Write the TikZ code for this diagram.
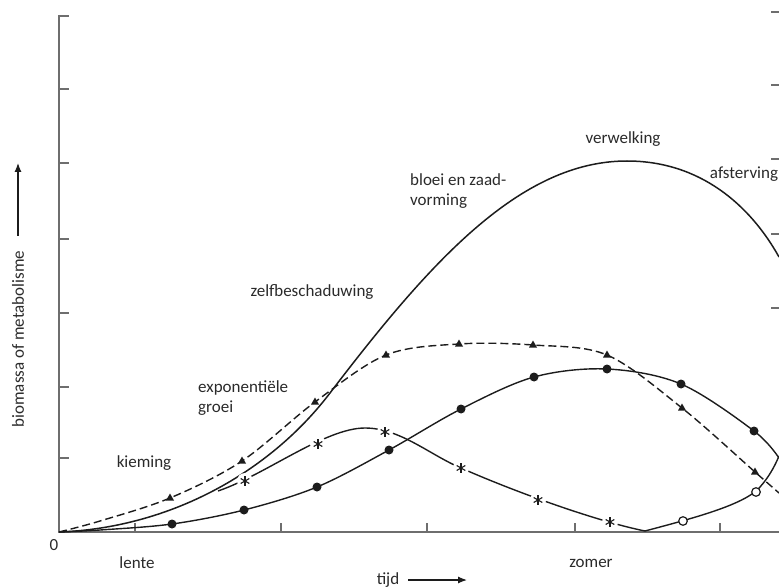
\documentclass[tikz,border=0pt]{standalone}
\usepackage{fontspec}
\setmainfont{Carlito}
\usetikzlibrary{arrows.meta}
\definecolor{axisgray}{HTML}{6E6E6E}
\definecolor{ink}{HTML}{1C1C1C}
\definecolor{labelink}{HTML}{2A2A2A}
\tikzset{
  axisline/.style={draw=axisgray, line width=1.6pt},
  tickline/.style={draw=axisgray, line width=1.3pt},
  curve/.style={draw=ink, line width=1.4pt, line join=round},
  dashcurve/.style={curve, dash pattern=on 8pt off 4pt},
  lbl/.style={text=labelink, inner sep=0pt, font=\fontsize{17}{20}\selectfont},
  lbll/.style={lbl, anchor=west, align=left},
}
\begin{document}
\begin{tikzpicture}[x=1pt, y=-1pt]
\useasboundingbox (0,0) rectangle (779,588);

% axes
\draw[axisline] (59,15) -- (59,532) -- (779,532);
\foreach \yy in {16,89,163,239,313,387,458}
  \draw[tickline] (59,\yy) -- (69,\yy);
\foreach \xx in {135,281,427,575,720}
  \draw[tickline] (\xx,532) -- (\xx,523);
% ticks of the right-hand axis
\foreach \yy in {12,85,159,234,308}
  \draw[tickline] (771,\yy) -- (779,\yy);

% total biomass
\draw[curve, line width=1.5pt] (59,532)
  .. controls (170,528) and (270,472) .. (330,393)
  .. controls (430,262) and (520,161) .. (627,161)
  .. controls (700,161) and (750,205) .. (779,257);

% triangles (dashed)
\draw[dashcurve] plot[smooth, tension=0.55] coordinates {
  (59,532) (100,521) (170,498) (242,461) (315,402) (386,355) (459,344)
  (533,345) (607,355) (682,408) (755,472) (779,493)};
\foreach \p in {(170,498),(242,461),(315,402),(386,355),(459,344),(533,345),(607,355),(682,408),(755,472)}
  \fill[ink] \p ++(0,-4.5) -- ++(4,7) -- ++(-8,0) -- cycle;

% filled dots
\draw[curve] plot[smooth, tension=0.55] coordinates {
  (59,532) (100,530) (172,524) (244,510) (317,487) (389,450) (461,409)
  (534,377) (607,369) (681,384) (754,431) (779,458)};
\foreach \p in {(172,524),(244,510),(317,487),(389,450),(461,409),(534,377),(607,369),(681,384),(754,431)}
  \fill[ink] \p circle (4.5);

% stars, falling to zero, then open circles
\draw[curve] (218,491)
  .. controls (265,475) and (325,428) .. (365,428)
  .. controls (400,428) and (430,455) .. (461,468)
  .. controls (520,494) and (600,522) .. (645,531);
\draw[curve] (645,531)
  .. controls (690,519) and (745,505) .. (760,487)
  .. controls (768,478) and (774,468) .. (779,456);
\foreach \p in {(245,481),(318,444),(385,432),(461,468),(538,500),(610,522)}{
  \fill[white] \p circle (8);
  \draw[ink, line width=1.1pt] \p ++(0,-5) -- ++(0,10);
  \draw[ink, line width=1.1pt] \p ++(30:5) -- ++(210:10);
  \draw[ink, line width=1.1pt] \p ++(150:5) -- ++(330:10);
}
\foreach \p in {(683,521),(756,492)}
  \filldraw[draw=ink, fill=white, line width=1.2pt] \p circle (4.3);

% phase labels
\node[lbl] (kiem) at (144,463) {kieming};
\node[lbll] (expo) at (198,398) {exponentiële\\groei};
\node[lbl] (zelf) at (312,292) {zelfbeschaduwing};
\node[lbll] (bloei) at (410,191) {bloei en zaad-\\vorming};
\node[lbl] (verw) at (623,139) {verwelking};
\node[lbl] (afst) at (744,174) {afsterving};

% axis labels
\node[lbl] (nul) at (54,545) {0};
\node[lbl] (lente) at (137,563) {lente};
\node[lbl] (zomer) at (591,563) {zomer};
\node[lbl] (tijd) at (388,580) {tijd};
\coordinate (tijdA) at (408,580);
\coordinate (tijdB) at (467,580);
\draw[draw=ink, line width=1.2pt, -{Latex[length=9pt,width=7pt]}] (tijdA) -- (tijdB);
\node[lbl, rotate=90] (bio) at (18,339) {biomassa of metabolisme};
\coordinate (bioA) at (18,236);
\coordinate (bioB) at (18,163);
\draw[draw=ink, line width=1.2pt, -{Latex[length=9pt,width=7pt]}] (bioA) -- (bioB);
\end{tikzpicture}
\end{document}
